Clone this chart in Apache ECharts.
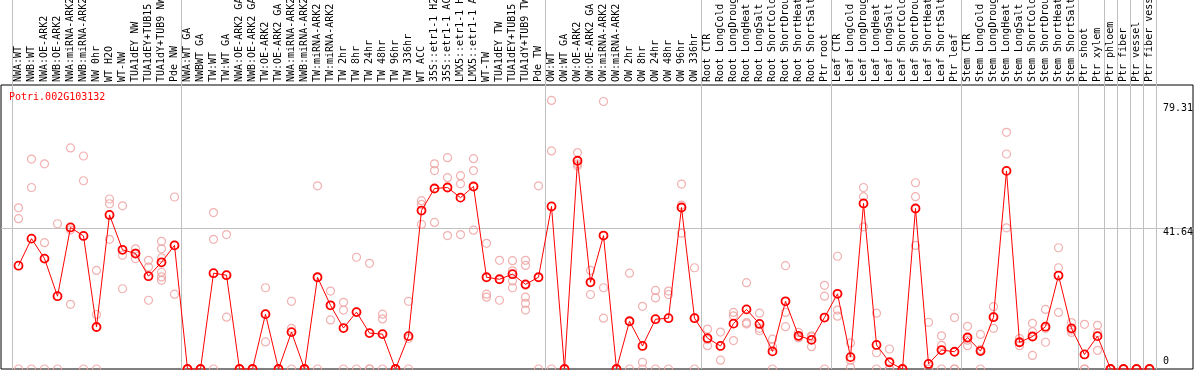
<!DOCTYPE html>
<html><head><meta charset="utf-8">
<script src="https://cdn.jsdelivr.net/npm/echarts@6/dist/echarts.min.js"></script>
<style>html,body{margin:0;padding:0;background:#fff}#c{width:1194px;height:370px}</style>
</head><body><div id="c"></div>
<script>
const chartTitle = 'Potri.002G103132';

const categories = [
  'NWA:WT','NWB:WT','NWA:OE-ARK2','NWB:OE-ARK2','NWA:miRNA-ARK2','NWB:miRNA-ARK2','NW 0hr','WT H2O','WT-NW',
  'TUA1dEY NW','TUA1dEY+TUB15 NW','TUA1dY+TUB9 NW','Pde NW',
  'NWA:WT GA','NWBWT GA','TW:WT','TW:WT GA','NWA:OE-ARK2 GA','NWB:OE-ARK2 GA','TW:OE-ARK2','TW:OE-ARK2 GA',
  'NWA:miRNA-ARK2','NWB:miRNA-ARK2','TW:miRNA-ARK2','TW:miRNA-ARK2','TW 2hr','TW 8hr','TW 24hr','TW 48hr',
  'TW 96hr','TW 336hr','WT ACC','35S::etr1-1 H2O','35S::etr1-1 ACC','LMX5::etr1-1 H2O','LMX5::etr1-1 ACC',
  'WT-TW','TUA1dEY TW','TUA1dEY+TUB15 TW','TUA1dY+TUB9 TW','Pde TW',
  'OW:WT','OW:WT GA','OW:OE-ARK2','OW:OE-ARK2 GA','OW:miRNA-ARK2','OW:miRNA-ARK2','OW 2hr','OW 8hr',
  'OW 24hr','OW 48hr','OW 96hr','OW 336hr',
  'Root CTR','Root LongCold','Root LongDrought','Root LongHeat','Root LongSalt','Root ShortCold',
  'Root ShortDrought','Root ShortHeat','Root ShortSalt','Ptr root',
  'Leaf CTR','Leaf LongCold','Leaf LongDrought','Leaf LongHeat','Leaf LongSalt','Leaf ShortCold',
  'Leaf ShortDrought','Leaf ShortHeat','Leaf ShortSalt','Ptr leaf',
  'Stem CTR','Stem LongCold','Stem LongDrought','Stem LongHeat','Stem LongSalt','Stem ShortCold',
  'Stem ShortDrought','Stem ShortHeat','Stem ShortSalt',
  'Ptr shoot','Ptr xylem','Ptr phloem','Ptr fiber','Ptr vessel','Ptr fiber vessel'
];

const means = [
  30.5,38.5,32.6,21.5,41.8,39.3,12.4,45.5,35.2,34.1,27.4,31.5,36.5,
  0,0,28.3,27.7,0,0,16.2,0,10.9,0,27.1,18.8,12.1,16.8,10.6,10.3,0,9.7,46.8,53.3,53.6,50.6,53.9,27.1,26.5,28.0,25.0,27.1,
  48.0,0,61.5,25.6,39.4,0,14.1,6.8,14.7,15.0,47.7,15.0,
  9.1,6.8,13.4,17.6,13.3,5.2,20.0,9.8,8.6,15.2,
  22.2,3.5,48.9,7.1,2.0,0,47.4,1.5,5.6,5.1,
  9.3,5.3,15.3,58.5,7.9,9.6,12.5,27.6,12.0,
  4.3,9.7,0,0,0,0
];

const replicates = [
  [47.6,44.4,0],[62.0,53.6,0],[60.6,37.3,0],[42.9,0],[65.3,41.1,19.1],[62.9,55.6,0],[29.1,16.1,0],
  [50.2,48.8,38.3],[48.2,33.6,23.7],[35.5,34.2,32.6],[32.1,30.1,20.3],[37.7,35.5,32.8,28.6,27.2,26.2],[50.8,36.6,22.1],
  [0,0,0],[0,0,0],[46.2,38.3,0],[39.7,27.7,15.3],[0,0,0],[0,0,0],[24.0,16.2,8.0],[0,0,0],[20.0,12.0,0],[0,0,0],
  [54.1,27.1,0],[23.0,18.8,14.5],[19.7,17.4,0],[33.0,16.8,0],[31.2,0,0],[16.2,14.8,0],[0,0,0],[20.0,9.0,0],
  [49.7,48.6,42.7],[60.6,58.6,43.3],[62.4,56.5,39.4],[57.1,54.7,39.7],[62.1,58.6,41.0],
  [37.1,22.1,21.2],[32.1,26.5,20.3],[32.0,29.0,26.0,24.0],[32.1,30.6,24.7,21.2,19.4,17.4],[54.1,27.1,0],
  [79.31,64.4,0],[0,0,0],[63.9,60.0,60.6],[29.1,25.6,22.0],[79.0,24.0,15.0],[0,0,0],[28.3,14.1,0],[18.5,2.0,0],
  [23.2,21.0,0],[23.0,22.0,0],[54.6,48.4,40.1],[29.9,15.1,0],
  [11.8,8.7,6.9],[10.9,6.8,2.6],[16.7,15.7,8.4],[25.5,13.7,13.3],[16.5,12.0,11.3],[8.8,6.6,0],[30.5,16.7,12.5],
  [10.8,9.4,9.2],[9.8,9.4,6.6],[24.7,21.5,0],
  [33.3,17.4,15.6],[7.7,2.6,0.5],[53.6,50.9,42.0],[16.5,4.8,0],[5.9,0,0],[0,0,0],[55.0,50.9,36.5],[13.8,0,0],
  [7.0,9.8,0],[15.2,0,0],
  [12.6,8.5,6.9],[10.2,5.7,0],[18.4,15.5,12.0],[69.9,63.5,41.7],[9.0,7.8,6.9],[13.5,11.0,4.0],[17.6,12.0,7.9],
  [35.8,29.9,16.7],[13.7,11.5,10.8],
  [13.2,0,0],[12.9,10.7,5.5],[0,0,0],[0,0,0],[0,0,0],[0,0,0]
];

const yTickLabels = [0, 41.64, 79.31];
const gridLineValues = [41.64];
const groupStarts = [0, 13, 41, 53, 63, 73, 82, 84, 85, 86, 87];

const FONT = 'DejaVu Sans Mono';
const PLOT_TOP = 85, PLOT_BOTTOM = 369;
const Y_MAX = 83.87;
const DATA_Y_MAX = Y_MAX * PLOT_BOTTOM / (PLOT_BOTTOM - PLOT_TOP);

const scatterData = [];
replicates.forEach((arr, i) => arr.forEach(v => scatterData.push([i, v])));

const chart = echarts.init(document.getElementById('c'), null, {renderer: 'canvas'});
chart.setOption({
  animation: false,
  backgroundColor: '#ffffff',
  title: {
    text: chartTitle, left: 9, top: 92, padding: 0,
    textStyle: {fontFamily: FONT, fontSize: 10, fontWeight: 'normal', color: '#ff0000'}
  },
  grid: [
    {left: 12, top: 0, width: 1144, height: PLOT_BOTTOM, outerBoundsMode: 'none', containLabel: false},
    {left: 1, top: PLOT_TOP, width: 1192, height: PLOT_BOTTOM - PLOT_TOP, show: true, outerBoundsMode: 'none',
     containLabel: false, borderColor: '#000', borderWidth: 1, backgroundColor: 'transparent', z: 0}
  ],
  xAxis: [
    {
      type: 'category', gridIndex: 0, data: categories, position: 'top', offset: -PLOT_TOP,
      boundaryGap: true,
      axisLine: {show: false}, axisTick: {show: false},
      axisLabel: {rotate: 90, interval: 0, margin: 3, fontFamily: FONT, fontSize: 10, color: '#000'},
      splitLine: {show: true, interval: (idx) => groupStarts.includes(idx),
                  lineStyle: {color: '#c0c0c0', width: 1}}
    },
    {type: 'value', gridIndex: 1, show: false, min: 0, max: 1}
  ],
  yAxis: [
    {
      type: 'value', gridIndex: 0, min: 0, max: DATA_Y_MAX, position: 'right',
      axisLine: {show: false}, axisTick: {show: false}, splitLine: {show: false},
      axisLabel: {
        customValues: yTickLabels, margin: 7, fontFamily: FONT, fontSize: 10, color: '#000',
        formatter: (v) => v === 0 ? '{c|0}' : (v > 60 ? '{a|' + v + '}' : '{b|' + v + '}'),
        rich: {
          a: {fontFamily: FONT, fontSize: 10, color: '#000', padding: [15, 0, 0, 0]},
          b: {fontFamily: FONT, fontSize: 10, color: '#000', padding: [8, 0, 0, 0]},
          c: {fontFamily: FONT, fontSize: 10, color: '#000', padding: [0, 0, 15, 0]}
        }
      }
    },
    {
      type: 'value', gridIndex: 1, min: 0, max: Y_MAX,
      axisLine: {show: false}, axisLabel: {show: false},
      axisTick: {show: false, customValues: gridLineValues},
      splitLine: {show: true, lineStyle: {color: '#c0c0c0', width: 1}}
    }
  ],
  series: [
    {
      type: 'scatter', xAxisIndex: 0, yAxisIndex: 0, data: scatterData,
      symbol: 'circle', symbolSize: 8, z: 2,
      itemStyle: {color: 'rgba(0,0,0,0)', borderColor: '#ef9e9e', borderWidth: 1.2}
    },
    {
      type: 'line', xAxisIndex: 0, yAxisIndex: 0, data: means,
      symbol: 'circle', symbolSize: 8, showAllSymbol: true, z: 3,
      lineStyle: {color: '#ff0000', width: 1},
      itemStyle: {color: 'rgba(0,0,0,0)', borderColor: '#ff0000', borderWidth: 1.8}
    }
  ]
});
</script></body></html>
